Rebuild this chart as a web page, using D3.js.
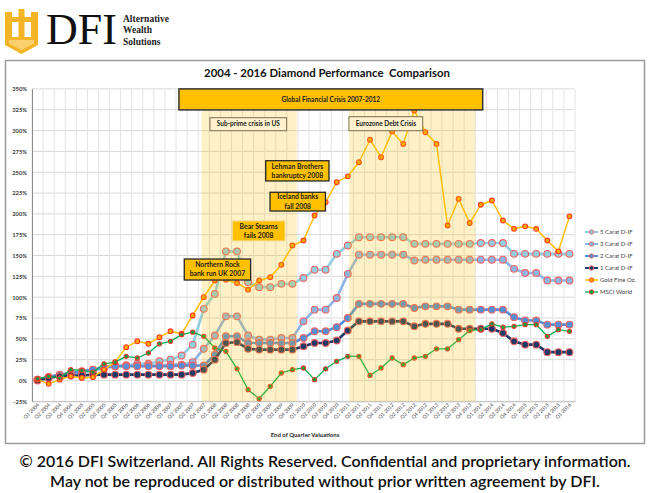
<!DOCTYPE html>
<html><head><meta charset="utf-8">
<script src="https://cdn.jsdelivr.net/npm/d3@7"></script>
<style>body{margin:0;background:#fff}svg{display:block}text{white-space:pre}</style>
</head><body><svg id="c" width="650" height="493"></svg>
<script>
const quarters = ["Q1 2004","Q2 2004","Q3 2004","Q4 2004","Q1 2005","Q2 2005","Q3 2005","Q4 2005","Q1 2006","Q2 2006","Q3 2006","Q4 2006","Q1 2007","Q2 2007","Q3 2007","Q4 2007","Q1 2008","Q2 2008","Q3 2008","Q4 2008","Q1 2009","Q2 2009","Q3 2009","Q4 2009","Q1 2010","Q2 2010","Q3 2010","Q4 2010","Q1 2011","Q2 2011","Q3 2011","Q4 2011","Q1 2012","Q2 2012","Q3 2012","Q4 2012","Q1 2013","Q2 2013","Q3 2013","Q4 2013","Q1 2014","Q2 2014","Q3 2014","Q4 2014","Q1 2015","Q2 2015","Q3 2015","Q4 2015","Q1 2016"];
const carat5 = [1,4,6,8,10,12,15,18,18,20,20,23,25,30,43,86,104,155,155,118,112,112,116,116,123,133,133,152,162,172,172,172,172,172,164,164,164,164,164,164,165,165,165,152,152,152,152,152,152];
const carat3 = [1,4,6,8,10,12,15,17,18,18,18,18,19,19,22,38,54,77,77,54,49,49,51,51,71,85,85,99,128,151,151,151,151,151,144,145,145,145,145,145,145,145,145,134,129,129,120,120,120];
const carat2 = [1,4,7,9,11,13,16,17,17,17,17,17,17,18,18,18,31,53,53,45,45,45,45,45,51,59,59,64,75,92,92,92,92,92,87,89,89,89,85,85,85,85,85,76,72,72,67,67,67];
const carat1 = [0,3,5,6,6,7,7,7,7,7,7,7,7,7,9,13,25,45,46,38,37,37,37,37,41,45,45,48,60,71,71,71,71,71,65,68,68,68,62,62,62,62,57,47,43,43,34,34,34];
const gold = [1,-4,1,5,3,4,13,22,40,47,44,52,59,56,78,100,120,121,117,109,120,124,139,162,168,198,214,238,245,262,289,268,299,284,324,298,284,186,218,189,211,216,192,182,185,182,168,155,197];
const msci = [2,5,3,13,12,10,20,22,29,27,33,44,47,55,58,53,39,35,14,-11,-22,-7,9,13,15,1,14,23,29,29,6,15,27,19,27,29,38,38,49,60,61,68,64,65,67,67,53,61,59];
const seriesNames = ["5 Carat D-IF","3 Carat D-IF","2 Carat D-IF","1 Carat D-IF","Gold Fine Oz.","MSCI World"];
const yTicks = [-25,0,25,50,75,100,125,150,175,200,225,250,275,300,325,350];
// annotation extents in data units: quarter index (0..49) and percent
const shadedPeriods = [[15.3,23.9],[28.6,40.0]];
const shadedTop = 323.5;
const headerBox = {text:["Global Financial Crisis 2007-2012"], x0:13.26, x1:40.67, y0:350, y1:324.8};
const periodLabels = [
  {text:["Sub-prime crisis in US"], x0:16.06, x1:22.98, y0:315.4, y1:299.8},
  {text:["Eurozone Debt Crisis"], x0:28.6, x1:35.26, y0:316.6, y1:299.8}
];
const eventBoxes = [
  {text:["Lehman Brothers","bankruptcy 2008"], x0:21.09, x1:26.8, y0:263.8, y1:239.5, border:"#262626"},
  {text:["Iceland banks","fall 2008"], x0:21.48, x1:26.48, y0:225.9, y1:203.4, border:"#262626"},
  {text:["Bear Stearns","fails 2008"], x0:18.07, x1:22.83, y0:191.5, y1:167.5, border:"#f2dc9b"},
  {text:["Northern Rock","bank run UK 2007"], x0:13.74, x1:19.73, y0:145.8, y1:120.6, border:"#262626"}
];

const svg = d3.select("#c");
const FONT = "Lato, 'Open Sans', sans-serif";
const L = 32, R = 575;
const x = d3.scaleBand().domain(quarters).range([L, R]);
const xf = d3.scaleLinear().domain([0, quarters.length]).range([L, R]);
const y = d3.scaleLinear().domain([-25, 350]).range([401.3, 88.9]);
const cx = q => x(q) + x.bandwidth() / 2;

// ---------- header / logo ----------
const logo = svg.append("g");
const G = "#F3B426";
logo.append("rect").attr("x",5).attr("y",12).attr("width",7).attr("height",27).attr("fill",G);
logo.append("rect").attr("x",31).attr("y",12).attr("width",7).attr("height",27).attr("fill",G);
logo.append("rect").attr("x",18.5).attr("y",9).attr("width",6).attr("height",29).attr("fill",G);
logo.append("rect").attr("x",12).attr("y",17).attr("width",19).attr("height",5).attr("fill",G);
logo.append("path").attr("d","M5,37 H38 V45 L21.5,54 L5,45 Z").attr("fill",G);
logo.append("path").attr("d","M9,40 H34 V43.5 L21.5,50 L9,43.5 Z").attr("fill","#FAD06E");
svg.append("text").attr("x",46).attr("y",44).text("DFI")
  .attr("font-family","'Liberation Serif', 'DejaVu Serif', serif").attr("font-size",44).attr("fill","#111");
["Alternative","Wealth","Solutions"].forEach((t,i)=>{
  svg.append("text").attr("x",123).attr("y",22+i*11.3).text(t)
    .attr("font-family","'Liberation Serif', serif").attr("font-size",9.5).attr("font-weight","bold").attr("fill","#222");
});

// chart frame
svg.append("rect").attr("x",5.5).attr("y",60.5).attr("width",639).attr("height",383)
  .attr("fill","#fff").attr("stroke","#9a9a9a").attr("stroke-width",1.5);

// title
svg.append("text").attr("x",327).attr("y",77).attr("text-anchor","middle")
  .attr("font-family",FONT).attr("font-weight","bold").attr("font-size",11.4).attr("fill","#111")
  .text("2004 - 2016 Diamond Performance  Comparison");

// ---------- grid ----------
const grid = svg.append("g");
yTicks.forEach(t=>{
  grid.append("line").attr("x1",L).attr("x2",R).attr("y1",y(t)).attr("y2",y(t))
    .attr("stroke","#d9d9d9").attr("stroke-width",1);
});
d3.range(quarters.length+1).forEach(i=>{
  grid.append("line").attr("x1",xf(i)).attr("x2",xf(i)).attr("y1",y(350)).attr("y2",y(-25))
    .attr("stroke","#e3e3e3").attr("stroke-width",1);
});
// axes
const yAxis = d3.axisLeft(y).tickValues(yTicks).tickSize(0).tickPadding(5).tickFormat(d=>d+"%");
svg.append("g").attr("transform",`translate(${L},0)`).call(yAxis)
  .call(g=>g.select(".domain").attr("stroke","#8c8c8c"))
  .call(g=>g.selectAll("text").attr("font-family",FONT).attr("font-size",5.8).attr("font-weight","bold").attr("fill","#404040"));
const xAxis = d3.axisBottom(x).tickSize(0).tickPadding(0);
svg.append("g").attr("transform",`translate(0,${y(-25)})`).call(xAxis)
  .call(g=>g.select(".domain").attr("stroke","#bfbfbf"))
  .call(g=>g.selectAll("text").attr("font-family",FONT).attr("font-size",5).attr("fill","#404040")
    .attr("text-anchor","end").attr("dy",0).attr("transform","translate(2,4) rotate(-45)"));
svg.append("text").attr("x",305).attr("y",437).attr("text-anchor","middle")
  .attr("font-family",FONT).attr("font-size",6).attr("font-weight","bold").attr("fill","#262626")
  .text("End of Quarter Valuations");

// ---------- series ----------
const series = [
  {name:seriesNames[0], vals:carat5, line:"#93CDDD", fill:"#93CDDD", w:2.6, r:3.4, mStroke:"#F26565"},
  {name:seriesNames[1], vals:carat3, line:"#8EB4E3", fill:"#8EB4E3", w:2.6, r:3.4, mStroke:"#F26565"},
  {name:seriesNames[2], vals:carat2, line:"#558ED5", fill:"#558ED5", w:2.6, r:3.4, mStroke:"#F26565"},
  {name:seriesNames[3], vals:carat1, line:"#1F3864", fill:"#1F3864", w:2.6, r:3.4, mStroke:"#F26565"},
  {name:seriesNames[4], vals:gold, line:"#FFC000", fill:"#FFA500", w:1.5, r:2.4, mStroke:"#FF3B1F"},
  {name:seriesNames[5], vals:msci, line:"#00B050", fill:"#00A040", w:1.3, r:2.1, mStroke:"#E23B2B"}
];
const lineGen = d3.line().x((d,i)=>cx(quarters[i])).y(d=>y(d));
series.forEach(s=>{
  const g = svg.append("g");
  g.append("path").attr("d",lineGen(s.vals)).attr("fill","none").attr("stroke",s.line)
    .attr("stroke-width",s.w).attr("stroke-linejoin","round");
  g.selectAll("circle").data(s.vals).join("circle")
    .attr("cx",(d,i)=>cx(quarters[i])).attr("cy",d=>y(d)).attr("r",s.r)
    .attr("fill",s.fill).attr("stroke",s.mStroke).attr("stroke-width",1.1);
});

// ---------- shaded crisis periods (translucent overlay) ----------
shadedPeriods.forEach(p=>{
  svg.append("rect").attr("x",xf(p[0])).attr("width",xf(p[1])-xf(p[0]))
    .attr("y",y(shadedTop)).attr("height",y(-25)-y(shadedTop))
    .attr("fill","#FFC000").attr("fill-opacity",0.22);
});

function box(b, fill, stroke, sw, fs, fw){
  const x0 = xf(b.x0), x1 = xf(b.x1), y0 = y(b.y0), y1 = y(b.y1);
  svg.append("rect").attr("x",x0).attr("y",y0).attr("width",x1-x0).attr("height",y1-y0)
    .attr("fill",fill).attr("stroke",stroke).attr("stroke-width",sw);
  const n = b.text.length, lh = fs*1.35, mid = (y0+y1)/2;
  b.text.forEach((t,i)=>{
    svg.append("text").attr("x",(x0+x1)/2).attr("y",mid + (i-(n-1)/2)*lh + fs*0.35)
      .attr("text-anchor","middle").attr("font-family",FONT).attr("font-size",fs)
      .attr("font-weight",fw).attr("fill","#1a1a1a").text(t);
  });
}
box(headerBox, "#FFC000", "#333", 1.5, 6.6, "bold");
periodLabels.forEach(b=>box(b, "#FFF2CC", "#7a6e52", 1, 6.5, "bold"));
eventBoxes.forEach(b=>box(b, "#FFC000", b.border, b.border==="#262626"?1.3:1, 6.8, "bold"));

// ---------- legend ----------
const lg = svg.append("g");
series.forEach((s,i)=>{
  const yy = 232 + i*12;
  lg.append("line").attr("x1",585).attr("x2",598).attr("y1",yy).attr("y2",yy)
    .attr("stroke",s.line).attr("stroke-width",Math.min(s.w,2));
  lg.append("circle").attr("cx",591.5).attr("cy",yy).attr("r",2.2)
    .attr("fill",s.fill).attr("stroke",s.mStroke).attr("stroke-width",0.9);
  lg.append("text").attr("x",600).attr("y",yy+2).attr("font-family",FONT).attr("font-size",6)
    .attr("fill","#404040").text(s.name);
});

// ---------- footer ----------
svg.append("text").attr("x",325).attr("y",467).attr("text-anchor","middle")
  .attr("font-family",FONT).attr("font-size",16).attr("font-weight","600").attr("fill","#111")
  .text("© 2016 DFI Switzerland. All Rights Reserved. Confidential and proprietary information.");
svg.append("text").attr("x",325).attr("y",487).attr("text-anchor","middle")
  .attr("font-family",FONT).attr("font-size",16).attr("font-weight","600").attr("fill","#111")
  .text("May not be reproduced or distributed without prior written agreement by DFI.");
</script></body></html>
